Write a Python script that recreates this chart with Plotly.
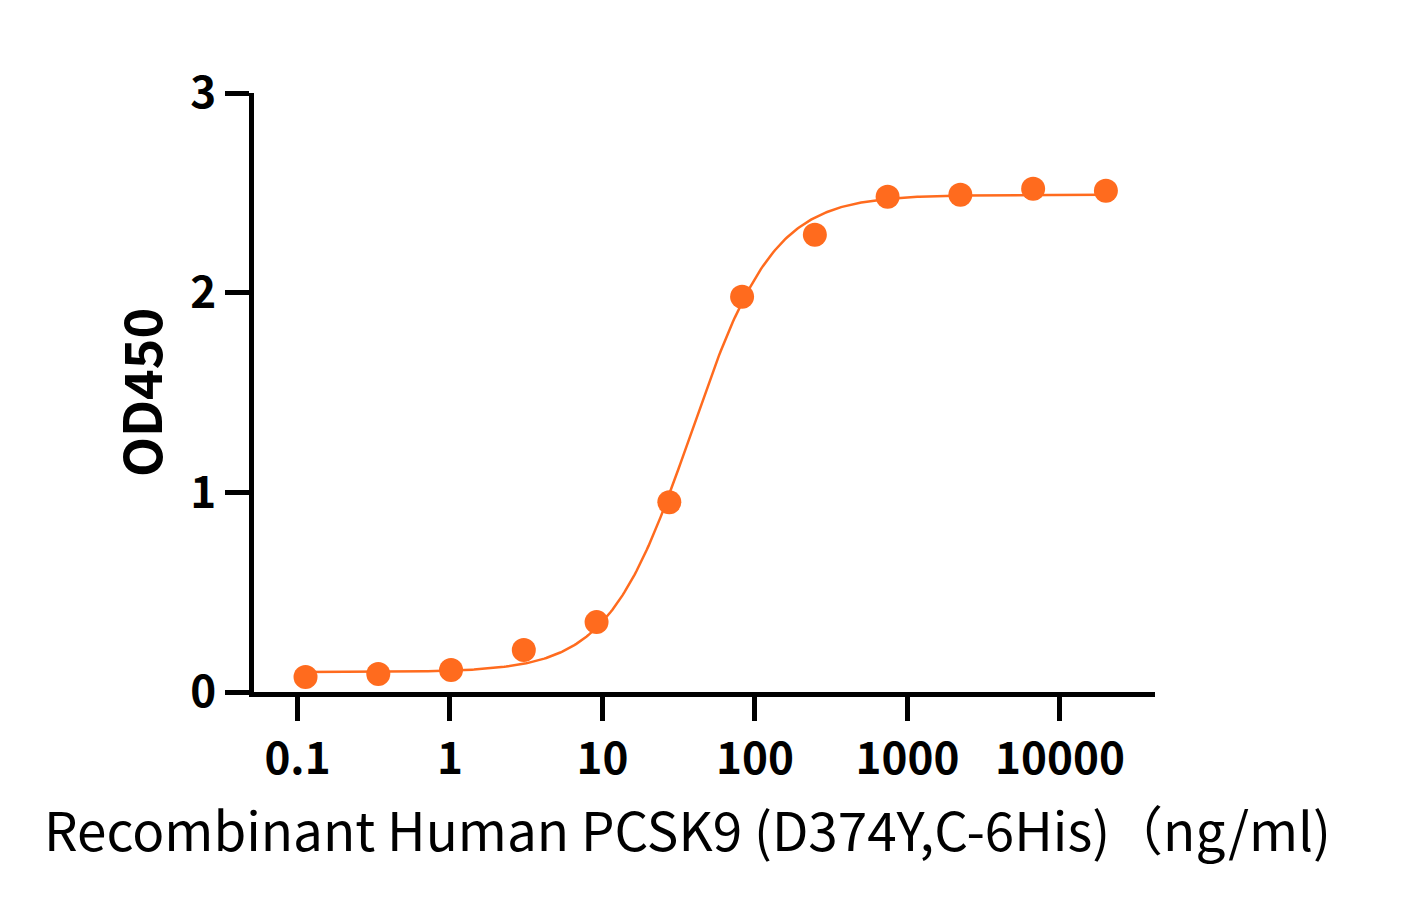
import numpy as np
import plotly.graph_objects as go

# Data
concentration = [0.1129, 0.3387, 1.016, 3.048, 9.145, 27.43, 82.30, 246.9, 740.7, 2222, 6667, 20000]
od450 = [0.075, 0.09, 0.11, 0.21, 0.35, 0.95, 1.98, 2.29, 2.48, 2.49, 2.52, 2.51]

# 4-parameter logistic fit parameters (estimated)
fit_bottom = 0.10
fit_top = 2.49
fit_ec50 = 38.0
fit_hill = 1.6

x_tick_vals = [0.1, 1, 10, 100, 1000, 10000]
x_tick_text = ["0.1", "1", "10", "100", "1000", "10000"]
y_tick_vals = [0, 1, 2, 3]
y_tick_text = ["0", "1", "2", "3"]

x_title = "Recombinant Human PCSK9 (D374Y,C-6His)（ng/ml)"
y_title = "OD450"

ORANGE = "#FF6B1E"
FONT = "Noto Sans CJK SC"

xs = np.logspace(np.log10(concentration[0]), np.log10(concentration[-1]), 400)
ys = fit_bottom + (fit_top - fit_bottom) / (1 + (fit_ec50 / xs) ** fit_hill)

fig = go.Figure()
fig.add_trace(go.Scatter(x=xs, y=ys, mode="lines",
                         line=dict(color=ORANGE, width=2.5), hoverinfo="skip",
                         showlegend=False))
fig.add_trace(go.Scatter(x=concentration, y=od450, mode="markers",
                         marker=dict(color=ORANGE, size=24, line=dict(width=0)),
                         showlegend=False, cliponaxis=False))

fig.update_layout(
    width=1407, height=903,
    margin=dict(l=254, r=252, t=93, b=211),
    paper_bgcolor="white", plot_bgcolor="white",
    font=dict(family=FONT, color="black"),
    xaxis=dict(
        type="log", range=[-1.2852, 4.623],
        tickmode="array", tickvals=x_tick_vals, ticktext=x_tick_text,
        ticks="outside", ticklen=24, tickwidth=5, tickcolor="black",
        showline=True, linewidth=5, linecolor="black",
        showgrid=False, zeroline=False,
        tickfont=dict(family=FONT, size=44, weight="bold", color="black"),
        ticklabelstandoff=0,
    ),
    yaxis=dict(
        range=[0, 3],
        tickmode="array", tickvals=y_tick_vals, ticktext=y_tick_text,
        ticks="outside", ticklen=24, tickwidth=5, tickcolor="black",
        showline=True, linewidth=5, linecolor="black",
        showgrid=False, zeroline=False,
        tickfont=dict(family=FONT, size=44, weight="bold", color="black"),
        ticklabelstandoff=0,
        title=dict(text=y_title, font=dict(family=FONT, size=52, weight="bold", color="black"), standoff=13),
    ),
    annotations=[dict(
        text=x_title, xref="paper", yref="paper",
        x=(687 - 254) / 901, y=-(828 - 692) / 600,
        xanchor="center", yanchor="middle", showarrow=False,
        font=dict(family=FONT, size=53, color="black"),
    )],
)

fig.write_html("out.html")
